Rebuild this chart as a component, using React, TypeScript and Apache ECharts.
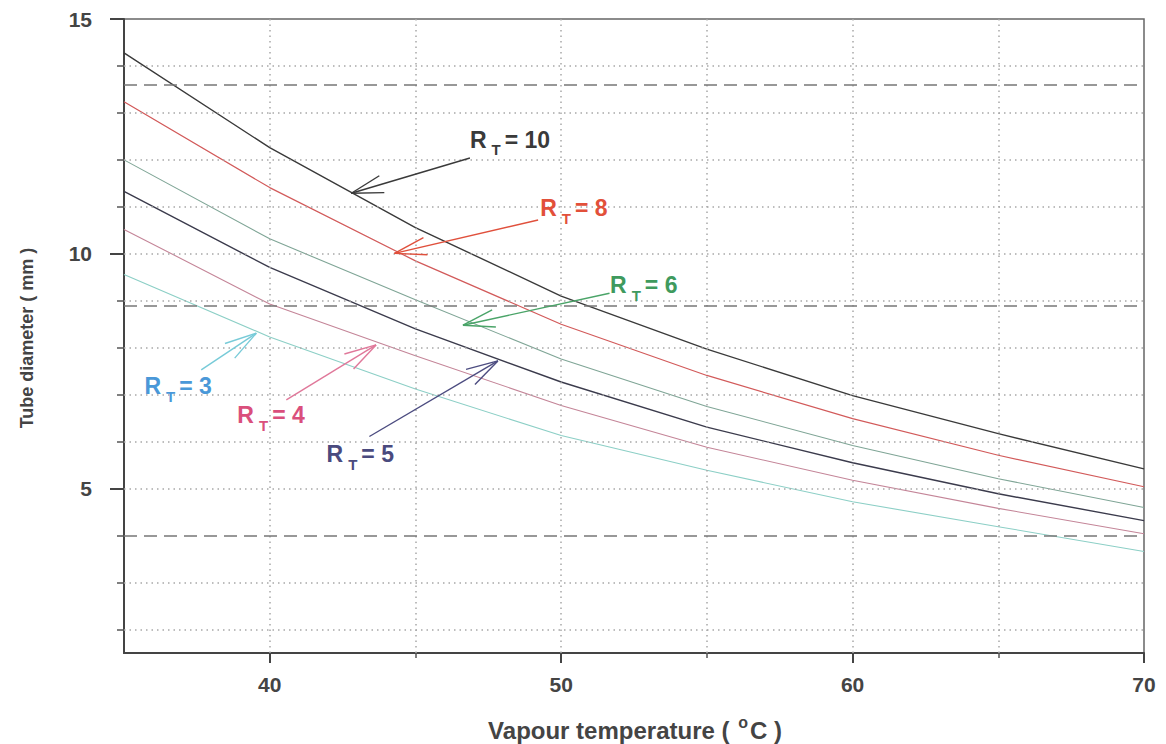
import React, { useEffect, useRef } from 'react';
import * as echarts from 'echarts';

// Vapour temperature (°C)
const temps = [35, 40, 45, 50, 55, 60, 65, 70];
// Tube diameter (mm) for each R_T
const rtNames = ['10', '8', '6', '5', '4', '3'];
const d10 = [14.28, 12.26, 10.56, 9.10, 7.97, 6.98, 6.17, 5.42];
const d8 = [13.24, 11.41, 9.85, 8.50, 7.41, 6.49, 5.71, 5.04];
const d6 = [12.0, 10.32, 9.02, 7.76, 6.75, 5.92, 5.21, 4.6];
const d5 = [11.33, 9.71, 8.40, 7.27, 6.31, 5.55, 4.89, 4.32];
const d4 = [10.52, 8.93, 7.83, 6.77, 5.88, 5.18, 4.58, 4.04];
const d3 = [9.56, 8.23, 7.12, 6.13, 5.39, 4.72, 4.19, 3.66];

const yLabelTicks = [5, 10, 15];
const yMinorTicks = [2, 3, 4, 6, 7, 8, 9, 11, 12, 13, 14];
const xLabelTicks = [40, 50, 60, 70];
const xMinorTicks = [45, 55, 65];
const hGrid = [2, 3, 5, 6, 7, 8, 9, 10, 11, 12, 13, 14];
const vGrid = [40, 45, 50, 55, 60, 65];
const dashedLevels = [13.6, 8.9, 4.0];

// annotation arrows (data coordinates), order: 10, 8, 6, 5, 4, 3
const arrowTipX = [42.80, 44.28, 46.63, 47.83, 43.65, 39.54];
const arrowTipY = [11.29, 10.01, 8.48, 7.72, 8.06, 8.31];
const arrowTailX = [46.87, 49.21, 51.66, 43.42, 40.57, 37.65];
const arrowTailY = [12.04, 10.72, 9.16, 6.11, 6.89, 7.53];
const labelX = [46.87, 49.28, 51.68, 41.95, 38.89, 35.70];
const labelY = [12.36, 10.91, 9.27, 5.67, 6.50, 7.12];

const curveData = [d10, d8, d6, d5, d4, d3];
const curveColors = ['#3a3a3a', '#d25a5a', '#7fa596', '#3b3b4c', '#c48598', '#8ccfc6'];
const curveWidths = [1.4, 1.2, 1.1, 1.4, 1.1, 1.1];
const arrowColors = ['#3a3a3a', '#e0503c', '#4aa468', '#4c4c80', '#e0789a', '#78cbd8'];
const labelColors = ['#3a3a3a', '#e2503a', '#3f9a5e', '#4a4a7e', '#da4f7c', '#4a98d8'];

const FONT = '"Liberation Sans", Arial, sans-serif';

export default function App() {
  const ref = useRef<HTMLDivElement>(null);
  useEffect(() => {
    document.body.style.margin = '0';
    const chart = echarts.init(ref.current!, null, { renderer: 'svg' });
    const curveSeries = curveData.map((d, k) => ({
      name: 'RT=' + rtNames[k],
      type: 'line',
      data: temps.map((t, i) => [t, d[i]]),
      symbol: 'none',
      smooth: false,
      silent: true,
      z: 3,
      lineStyle: { color: curveColors[k], width: curveWidths[k] },
    }));
    const annData = rtNames.map((_, i) => [
      arrowTipX[i], arrowTipY[i], arrowTailX[i], arrowTailY[i], labelX[i], labelY[i],
    ]);
    const option: any = {
      animation: false,
      backgroundColor: '#ffffff',
      grid: {
        left: 124, right: 22, top: 19, bottom: 91,
        show: true, borderColor: '#666', borderWidth: 1.5,
      },
      xAxis: [
        {
          type: 'value', min: 35, max: 70, interval: 5, position: 'bottom',
          axisLine: { show: true, onZero: false, lineStyle: { color: '#444', width: 2 } },
          axisTick: { show: true, customValues: xLabelTicks, length: 10, lineStyle: { color: '#444', width: 2 } },
          axisLabel: {
            customValues: xLabelTicks, margin: 21, color: '#444',
            fontSize: 21, fontWeight: 'bold', fontFamily: FONT,
          },
          splitLine: { show: false },
        },
        {
          type: 'value', min: 35, max: 70, interval: 5, position: 'bottom',
          axisLine: { show: false, onZero: false },
          axisTick: { show: true, customValues: xMinorTicks, length: 5, lineStyle: { color: '#555', width: 1.5 } },
          axisLabel: { show: false },
          splitLine: { show: false },
        },
      ],
      yAxis: [
        {
          type: 'value', min: 1.5, max: 15, position: 'left',
          axisLine: { show: true, onZero: false, lineStyle: { color: '#444', width: 2 } },
          axisTick: { show: true, customValues: yLabelTicks, length: 14, lineStyle: { color: '#444', width: 2 } },
          axisLabel: {
            customValues: yLabelTicks, margin: 32, color: '#444',
            fontSize: 21, fontWeight: 'bold', fontFamily: FONT,
          },
          splitLine: { show: false },
        },
        {
          type: 'value', min: 1.5, max: 15, position: 'left',
          axisLine: { show: false, onZero: false },
          axisTick: { show: true, customValues: yMinorTicks, length: 7, lineStyle: { color: '#555', width: 1.5 } },
          axisLabel: { show: false },
          splitLine: { show: false },
        },
      ],
      series: [
        {
          type: 'line',
          data: [],
          symbol: 'none',
          silent: true,
          z: 1,
          markLine: {
            silent: true,
            symbol: ['none', 'none'],
            label: { show: false },
            animation: false,
            lineStyle: { type: [1.5, 4], color: '#a8a8a8', width: 1.5 },
            data: [
              ...hGrid.map((v) => ({ yAxis: v })),
              ...vGrid.map((v) => ({ xAxis: v })),
            ],
          },
        },
        {
          type: 'line',
          data: [],
          symbol: 'none',
          silent: true,
          z: 2,
          markLine: {
            silent: true,
            symbol: ['none', 'none'],
            label: { show: false },
            animation: false,
            lineStyle: { type: [13, 7], color: '#777', width: 1.6 },
            data: dashedLevels.map((v) => ({ yAxis: v })),
          },
        },
        ...curveSeries,
        {
          type: 'custom',
          data: annData,
          silent: true,
          z: 5,
          clip: false,
          renderItem: (params: any, api: any) => {
            const i = params.dataIndex;
            const tip = api.coord([api.value(0), api.value(1)]);
            const tail = api.coord([api.value(2), api.value(3)]);
            const lab = api.coord([api.value(4), api.value(5)]);
            const ang = Math.atan2(tail[1] - tip[1], tail[0] - tip[0]);
            const L = 33;
            const a = 0.27;
            const b1 = [tip[0] + L * Math.cos(ang + a), tip[1] + L * Math.sin(ang + a)];
            const b2 = [tip[0] + L * Math.cos(ang - a), tip[1] + L * Math.sin(ang - a)];
            const st = { stroke: arrowColors[i], lineWidth: 1.4 };
            return {
              type: 'group',
              children: [
                { type: 'line', shape: { x1: tail[0], y1: tail[1], x2: tip[0], y2: tip[1] }, style: st },
                { type: 'line', shape: { x1: tip[0], y1: tip[1], x2: b1[0], y2: b1[1] }, style: st },
                { type: 'line', shape: { x1: tip[0], y1: tip[1], x2: b2[0], y2: b2[1] }, style: st },
                {
                  type: 'text',
                  x: lab[0],
                  y: lab[1],
                  style: {
                    text: '{r|R}{t|T}{r|= ' + rtNames[i] + '}',
                    fill: labelColors[i],
                    align: 'left',
                    verticalAlign: 'middle',
                    rich: {
                      r: { fontSize: 23, fontWeight: 'bold', fontFamily: FONT, verticalAlign: 'bottom', padding: [0, 0, 6, 0] },
                      t: { fontSize: 15, fontWeight: 'bold', fontFamily: FONT, verticalAlign: 'bottom', padding: [0, 4, 0, 5] },
                    },
                  },
                },
              ],
            };
          },
        },
      ],
      graphic: [
        {
          type: 'text',
          x: 27,
          y: 338,
          rotation: Math.PI / 2,
          style: {
            text: 'Tube diameter ( mm )',
            fill: '#444',
            font: 'bold 18px ' + FONT,
            align: 'center',
            verticalAlign: 'middle',
          },
        },
        {
          type: 'text',
          x: 635,
          y: 728,
          style: {
            text: '{a|Vapour temperature ( }{s|o}{a|C )}',
            fill: '#444',
            align: 'center',
            verticalAlign: 'middle',
            rich: {
              a: { fontSize: 24, fontWeight: 'bold', fontFamily: FONT, verticalAlign: 'bottom' },
              s: { fontSize: 16, fontWeight: 'bold', fontFamily: FONT, verticalAlign: 'bottom', padding: [0, 2, 12, 2] },
            },
          },
        },
      ],
    };
    chart.setOption(option);
    return () => chart.dispose();
  }, []);
  return <div ref={ref} style={{ width: 1166, height: 744 }} />;
}
